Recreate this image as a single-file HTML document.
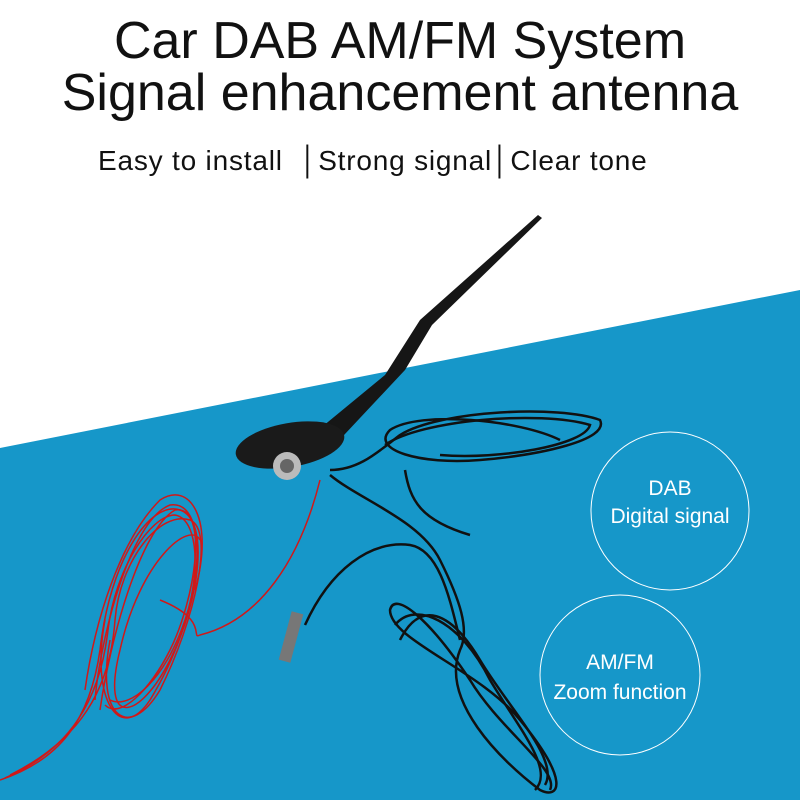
<!DOCTYPE html>
<html><head><meta charset="utf-8"><style>
body{margin:0;width:800px;height:800px;overflow:hidden;background:#fff;font-family:"Liberation Sans","DejaVu Sans",sans-serif;}
.t{position:absolute;left:0;width:800px;text-align:center;color:#111;}
</style></head><body>
<svg width="800" height="800" style="position:absolute;left:0;top:0">
<polygon points="0,448 800,290 800,800 0,800" fill="#1697c9"/>
<!-- red coil -->
<g fill="none" stroke="#d01818" stroke-width="1.5">
<path d="M0,780 C60,760 90,720 100,650 C110,560 150,500 180,510 C210,520 200,600 170,660 C140,720 100,730 120,650 C140,560 190,520 200,540"/>
<path d="M10,775 C80,740 110,690 115,620 C120,560 160,510 190,520 C215,530 195,620 160,690 C130,740 95,720 110,640"/>
<path d="M5,778 C70,750 100,700 108,630 C115,570 150,515 175,515 C205,520 205,610 150,700 C120,745 90,700 105,620"/>
<path d="M95,700 C100,640 130,520 170,505 C200,500 205,560 185,620 C165,680 130,710 110,700"/>
<path d="M100,710 C110,640 140,530 175,510 C210,505 195,600 170,650 C150,690 120,720 105,705"/>
<path d="M85,690 C95,620 120,540 160,500 C190,480 215,520 195,590"/>
<path d="M160,600 C210,620 190,640 200,635 C260,620 300,560 320,480"/>
</g>
<!-- black cables -->
<g fill="none" stroke="#111" stroke-width="2.5">
<path d="M330,470 C360,470 380,450 400,435 C440,410 560,405 600,420 C610,440 540,455 480,460 C420,465 370,450 390,430 C420,410 520,420 560,440"/>
<path d="M385,445 C420,420 540,410 590,425 C585,445 500,460 440,455"/>
<path d="M330,475 C360,500 420,520 440,560 C460,600 470,630 460,650 C440,700 500,760 540,790 C560,800 570,780 520,720 C480,670 390,640 390,610 C395,590 430,620 470,680 C500,730 560,770 550,790"/>
<path d="M400,640 C420,600 450,610 480,660 C510,710 560,760 545,785"/>
<path d="M395,625 C415,600 460,620 490,680 C520,730 555,770 535,790"/>
<path d="M405,470 C410,500 420,520 470,535"/>
<path d="M305,625 C330,570 370,540 410,545 C440,550 450,600 460,640"/>
</g>
<!-- antenna -->
<polygon points="538,215 542,218 432,325 405,370 330,450 300,445 385,375 420,320" fill="#161616"/>
<ellipse cx="290" cy="445" rx="55" ry="22" fill="#1a1a1a" transform="rotate(-10 290 445)"/>
<circle cx="287" cy="466" r="14" fill="#bbb"/><circle cx="287" cy="466" r="7" fill="#666"/>
<rect x="285" y="612" width="12" height="50" fill="#777" transform="rotate(15 291 637)"/>
<circle cx="670" cy="511" r="79" fill="none" stroke="#fff" stroke-width="1"/>
<circle cx="620" cy="675" r="80" fill="none" stroke="#fff" stroke-width="1"/>
</svg>
<div class="t" style="top:12px;font-size:52px;line-height:58px">Car DAB AM/FM System</div>
<div class="t" style="top:64px;font-size:52px;line-height:58px">Signal enhancement antenna</div>
<div style="position:absolute;left:98px;top:145px;font-size:28px;letter-spacing:0.8px;color:#111;white-space:nowrap">Easy to install &nbsp;│Strong signal│Clear tone</div>
<div style="position:absolute;left:580px;top:475px;width:180px;text-align:center;color:#fff;font-size:21px;line-height:28px">DAB<br>Digital signal</div>
<div style="position:absolute;left:530px;top:648px;width:180px;text-align:center;color:#fff;font-size:21px;line-height:30px">AM/FM<br>Zoom function</div>
</body></html>
